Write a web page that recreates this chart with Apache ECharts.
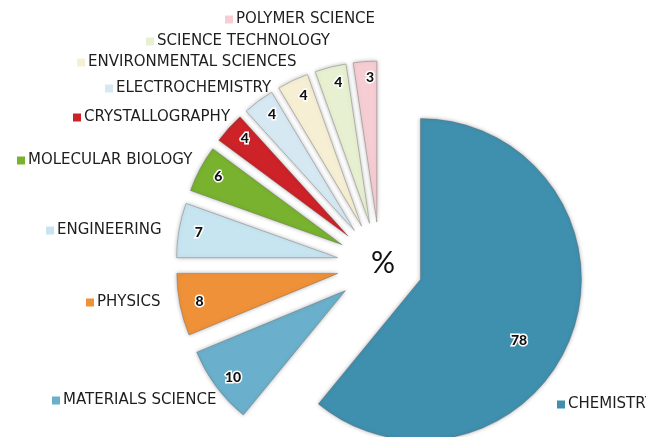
<!DOCTYPE html>
<html>
<head>
<meta charset="utf-8">
<script src="https://cdn.jsdelivr.net/npm/echarts@6/dist/echarts.min.js"></script>
<style>
  html, body { margin: 0; padding: 0; background: #fff; }
  #chart { width: 646px; height: 437px; }
</style>
</head>
<body>
<div id="chart"></div>
<script>
// Publications by subject area, clockwise from 12 o'clock
const categories = [
  'CHEMISTRY', 'MATERIALS SCIENCE', 'PHYSICS', 'ENGINEERING',
  'MOLECULAR BIOLOGY', 'CRYSTALLOGRAPHY', 'ELECTROCHEMISTRY',
  'ENVIRONMENTAL SCIENCES', 'SCIENCE TECHNOLOGY', 'POLYMER SCIENCE'
];
const values = [78, 10, 8, 7, 6, 4, 4, 4, 4, 3];
const colors = [
  '#3f8fae', '#6aafcb', '#ef9138', '#c6e5f0', '#78b22e',
  '#cc2228', '#d6e9f3', '#f7efd3', '#e7f1d1', '#f6cdd3'
];
// Where each legend key sits around the pie [left, top]
const legendSpots = [
  [557, 397], [52, 393], [86, 295], [46, 223], [17, 153],
  [73, 110], [105, 81], [77, 55], [146, 34], [225, 12]
];

const center = [380, 265];
const outerR = 161;
const explode = 43;

const sliceData = categories.map((name, i) => ({
  name: name,
  value: values[i],
  selected: true,
  itemStyle: { color: colors[i] }
}));

// Value labels ride on a transparent ring near the rim
const labelData = categories.map((name, i) => ({
  name: name, value: values[i], selected: true
}));

const legends = categories.map((name, i) => ({
  data: [name],
  left: legendSpots[i][0],
  top: legendSpots[i][1],
  padding: 0,
  icon: 'rect',
  itemWidth: 8,
  itemHeight: 8,
  itemStyle: { borderWidth: 0 },
  selectedMode: false,
  textStyle: {
    fontFamily: 'DejaVu Sans',
    fontSize: 15,
    color: '#1e1e1e',
    padding: [0, 0, 0, -2]
  }
}));

const chart = echarts.init(document.getElementById('chart'), null, { renderer: 'canvas' });
chart.setOption({
  animation: false,
  backgroundColor: '#ffffff',
  color: colors,
  title: {
    text: '%',
    left: 366,
    top: 243,
    textStyle: { fontFamily: 'Lato', fontWeight: 'normal', fontSize: 30, color: '#111' }
  },
  legend: legends,
  series: [
    {
      type: 'pie',
      center: center,
      radius: [0, outerR],
      startAngle: 90,
      clockwise: true,
      selectedMode: 'multiple',
      selectedOffset: explode,
      avoidLabelOverlap: false,
      emphasis: { disabled: true },
      label: { show: false },
      labelLine: { show: false },
      itemStyle: {
        borderColor: 'rgba(90,90,90,0.35)',
        borderWidth: 1,
        shadowBlur: 4,
        shadowColor: 'rgba(0,0,0,0.3)'
      },
      data: sliceData
    },
    {
      type: 'pie',
      silent: true,
      center: center,
      radius: [outerR - 30, outerR - 8],
      startAngle: 90,
      clockwise: true,
      selectedMode: 'multiple',
      selectedOffset: explode,
      avoidLabelOverlap: false,
      emphasis: { disabled: true },
      itemStyle: { color: 'rgba(0,0,0,0)' },
      labelLine: { show: false },
      label: {
        show: true,
        position: 'inside',
        formatter: '{c}',
        fontFamily: 'Lato',
        fontWeight: 900,
        fontSize: 14,
        color: '#111',
        textBorderColor: '#fff',
        textBorderWidth: 3
      },
      // the big slice carries its value further in, toward the lower left
      labelLayout: function (p) {
        return p.dataIndex === 0 ? { dx: -38, dy: 12 } : { dx: 4, dy: 0 };
      },
      data: labelData
    }
  ]
});
</script>
</body>
</html>
